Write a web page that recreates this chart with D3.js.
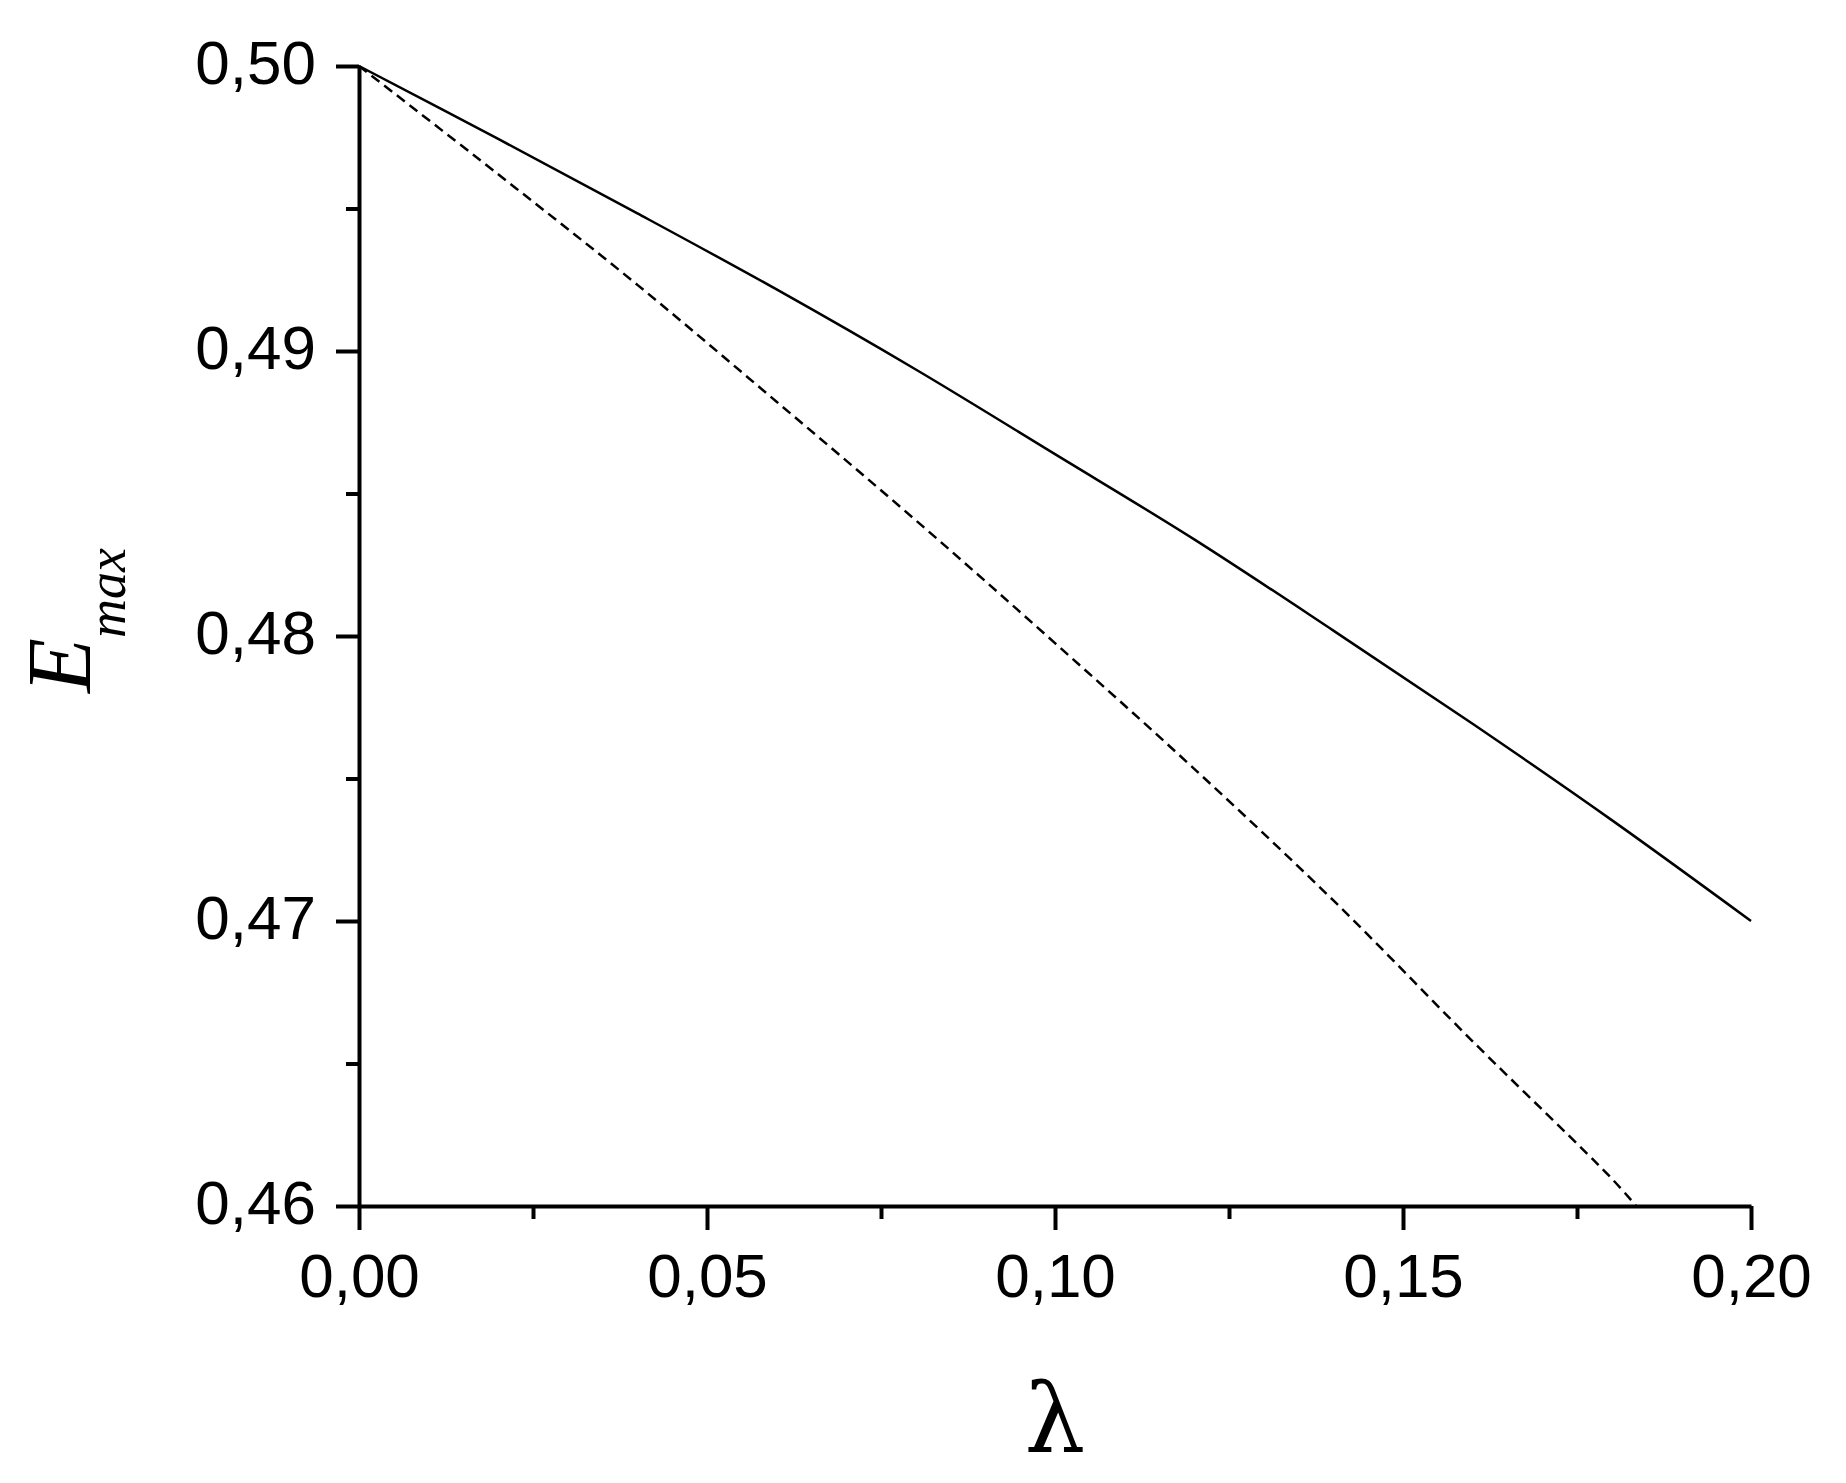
<!DOCTYPE html>
<html>
<head>
<meta charset="utf-8">
<script src="https://cdn.jsdelivr.net/npm/d3@7"></script>
<style>
  body { margin: 0; background: #fff; }
  .axis path, .axis line { stroke: #000; stroke-width: 4; }
  .axis text { font-family: 'Liberation Sans', Arial, sans-serif; font-size: 62px; fill: #000; }
</style>
</head>
<body>
<script>
// lambda values along the curves
const lambdaSolid = [0, 0.02, 0.04, 0.06, 0.08, 0.10, 0.12, 0.14, 0.16, 0.18, 0.20];
const emaxSolid = [0.5000, 0.49744, 0.49483, 0.49216, 0.48935, 0.48638, 0.48339, 0.48019, 0.47692, 0.47354, 0.4700];

const lambdaDashed = [0, 0.02, 0.04, 0.06, 0.08, 0.10, 0.12, 0.14, 0.16, 0.18, 0.1835];
const emaxDashed = [0.5000, 0.4962, 0.49232, 0.48822, 0.48406, 0.47975, 0.47534, 0.47072, 0.46578, 0.46096, 0.4600];

const xTicks = [0, 0.05, 0.10, 0.15, 0.20];
const xMinor = [0.025, 0.075, 0.125, 0.175];
const yTicks = [0.46, 0.47, 0.48, 0.49, 0.50];
const yMinor = [0.465, 0.475, 0.485, 0.495];

const margin = { top: 66, right: 95, bottom: 277, left: 359 };
const W = 1846, H = 1483;
const width = W - margin.left - margin.right;
const height = H - margin.top - margin.bottom;

const svg = d3.select('body')
  .append('svg')
  .attr('width', W)
  .attr('height', H)
  .append('g')
  .attr('transform', `translate(${margin.left}, ${margin.top})`);

const xScale = d3.scaleLinear().domain([0, 0.20]).range([0, width]);
const yScale = d3.scaleLinear().domain([0.46, 0.50]).range([height, 0]);

const comma = d => d3.format('.2f')(d).replace('.', ',');

// minor ticks first
svg.append('g')
  .attr('class', 'axis')
  .attr('transform', `translate(0, ${height})`)
  .call(d3.axisBottom(xScale).tickValues(xMinor).tickSize(13).tickSizeOuter(0).tickFormat(''))
  .select('.domain').remove();

svg.append('g')
  .attr('class', 'axis')
  .call(d3.axisLeft(yScale).tickValues(yMinor).tickSize(13).tickSizeOuter(0).tickFormat(''))
  .select('.domain').remove();

const xAxis = svg.append('g')
  .attr('class', 'x axis')
  .attr('transform', `translate(0, ${height})`)
  .call(d3.axisBottom(xScale).tickValues(xTicks).tickSize(24).tickSizeOuter(0).tickPadding(23).tickFormat(comma));
xAxis.selectAll('text').attr('dy', '0.71em');

const yAxis = svg.append('g')
  .attr('class', 'y axis')
  .call(d3.axisLeft(yScale).tickValues(yTicks).tickSize(23).tickSizeOuter(0).tickPadding(20).tickFormat(comma));
yAxis.selectAll('text').attr('dy', '0.28em');

const line = d3.line()
  .x(d => xScale(d[0]))
  .y(d => yScale(d[1]))
  .curve(d3.curveCatmullRom);

svg.append('path')
  .datum(d3.zip(lambdaSolid, emaxSolid))
  .attr('d', line)
  .attr('fill', 'none')
  .attr('stroke', '#000')
  .attr('stroke-width', 2.5);

svg.append('path')
  .datum(d3.zip(lambdaDashed, emaxDashed))
  .attr('d', line)
  .attr('fill', 'none')
  .attr('stroke', '#000')
  .attr('stroke-width', 2.5)
  .attr('stroke-dasharray', '10,6');

// axis titles
svg.append('text')
  .attr('x', xScale(0.1))
  .attr('y', 1452 - margin.top)
  .style('text-anchor', 'middle')
  .style('font-family', "'DejaVu Serif', serif")
  .style('font-size', '96px')
  .text('λ');

const yTitle = svg.append('text')
  .attr('transform', `translate(${90 - margin.left}, ${693 - margin.top}) rotate(-90)`)
  .style('font-family', "'Liberation Serif', 'Times New Roman', serif")
  .style('font-style', 'italic')
  .style('font-size', '90px')
  .text('E');
yTitle.append('tspan')
  .attr('dy', 35)
  .style('font-size', '54px')
  .text('max');
</script>
</body>
</html>
